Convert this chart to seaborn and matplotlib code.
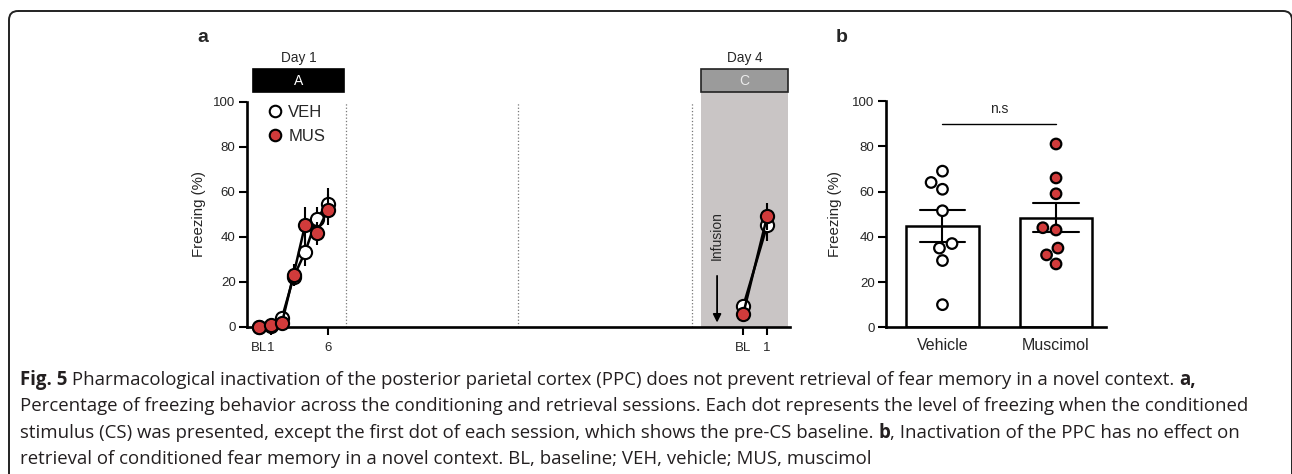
import pandas as pd
import matplotlib
matplotlib.use("Agg")
import matplotlib.pyplot as plt
import seaborn as sns
from matplotlib.patches import Rectangle, FancyBboxPatch
from matplotlib.lines import Line2D

# panel a: freezing per trial, conditioning (day 1) and retrieval (day 4)
day1_trials = ["BL", "1", "2", "3", "4", "5", "6"]
day4_trials = ["BL", "1"]
veh_day1 = [0, 0.5, 4, 22, 33, 48, 54.5]
veh_day1_sem = [0.3, 0.5, 1, 4, 6, 5, 7]
mus_day1 = [0, 0.8, 1.8, 23, 45, 41.5, 52]
mus_day1_sem = [0.3, 0.5, 0.6, 5, 8, 5, 7]
veh_day4 = [9, 45]
veh_day4_sem = [1.5, 7]
mus_day4 = [5.6, 49]
mus_day4_sem = [1, 6]

# panel b: retrieval freezing per animal
groups_b = ["Vehicle", "Muscimol"]
vehicle_pts = [69, 64, 61, 51.5, 37, 35, 29.5, 10]
muscimol_pts = [81, 66, 59, 44, 43, 35, 32, 28]

RED = "#d13b3b"
W, H = 1292, 474

# layout of the session axis (trial units)
day4_start, day4_step = 42.1, 2.08
day_bounds = [7.54, 22.5, 37.65]

rows = []
for group, d1, s1, d4, s4 in [("VEH", veh_day1, veh_day1_sem, veh_day4, veh_day4_sem),
                              ("MUS", mus_day1, mus_day1_sem, mus_day4, mus_day4_sem)]:
    for i, (t, v, s) in enumerate(zip(day1_trials, d1, s1)):
        rows.append(dict(group=group, day="Day 1", trial=t, pos=i, freezing=v, sem=s))
    for i, (t, v, s) in enumerate(zip(day4_trials, d4, s4)):
        rows.append(dict(group=group, day="Day 4", trial=t, pos=day4_start + i * day4_step,
                         freezing=v, sem=s))
df_a = pd.DataFrame(rows)

df_b = pd.DataFrame({"group": ["Vehicle"] * len(vehicle_pts) + ["Muscimol"] * len(muscimol_pts),
                     "freezing": vehicle_pts + muscimol_pts})

sns.set_theme(style="ticks")
plt.rcParams["font.family"] = ["Liberation Sans", "DejaVu Sans"]

fig = plt.figure(figsize=(W / 100, H / 100), dpi=100)

# background: rounded frame + caption, in pixel coordinates
bg = fig.add_axes([0, 0, 1, 1])
bg.set_xlim(0, W)
bg.set_ylim(H, 0)
bg.axis("off")
bg.add_patch(FancyBboxPatch((9, 11), 1283, 500, boxstyle="round,pad=0,rounding_size=9",
                            fill=False, ec="#222222", lw=1.4))

# ---------------- panel a ----------------
ax = fig.add_axes([246.7 / W, 1 - 326.7 / H, (790 - 246.7) / W, 225.2 / H])
ax.set_xlim(-1.07, 46.17)
ax.set_ylim(0, 100)

ax.add_patch(Rectangle((38.41, 0), 46.0 - 38.41, 104, fc="#c9c5c5", lw=0, zorder=0, clip_on=False))
for xb in day_bounds:
    ax.axvline(xb, ymin=0, ymax=1, ls=":", color="#777777", lw=0.9, zorder=1)

# session headers
ax.add_patch(Rectangle((-0.55, 104), 7.94, 10.5, fc="black", ec="black", lw=1.2, clip_on=False))
ax.text(3.42, 109.2, "A", color="white", ha="center", va="center", fontsize=10)
ax.text(3.42, 119.3, "Day 1", ha="center", va="center", fontsize=9.8)
ax.add_patch(Rectangle((38.41, 104), 7.59, 10.5, fc="#9b9b9b", ec="#222222", lw=1.2, clip_on=False))
ax.text(42.2, 109.2, "C", color="#ececec", ha="center", va="center", fontsize=10)
ax.text(42.2, 119.3, "Day 4", ha="center", va="center", fontsize=9.8)

# infusion arrow
ax.annotate("", xy=(39.83, 0.6), xytext=(39.83, 23.8),
            arrowprops=dict(arrowstyle="-|>", color="black", lw=1.3, mutation_scale=12))
ax.text(39.83, 40.4, "Infusion", rotation=90, ha="center", va="center", fontsize=10)

faces = {"VEH": "white", "MUS": RED}
for z, group in enumerate(["VEH", "MUS"]):
    for day in ["Day 1", "Day 4"]:
        sub = df_a[(df_a["group"] == group) & (df_a["day"] == day)]
        ax.errorbar(sub["pos"], sub["freezing"], yerr=sub["sem"], fmt="none", ecolor="black",
                    elinewidth=1.5, capsize=0, zorder=3 + 2 * z, clip_on=False)
        sns.lineplot(data=sub, x="pos", y="freezing", ax=ax, color="black", lw=1.8,
                     marker="o", markersize=9.5, markerfacecolor=faces[group],
                     markeredgecolor="black", markeredgewidth=1.5, errorbar=None,
                     zorder=4 + 2 * z, clip_on=False)

handles = [Line2D([], [], ls="none", marker="o", ms=8.3, mfc="white", mec="black", mew=1.5, label="VEH"),
           Line2D([], [], ls="none", marker="o", ms=8.3, mfc=RED, mec="black", mew=1.5, label="MUS")]
ax.legend(handles=handles, loc="upper left", bbox_to_anchor=(0.041, 0.985), frameon=False,
          handlelength=0.75, handletextpad=0.4, labelspacing=0.56, fontsize=12,
          borderaxespad=0, borderpad=0)

ax.set_xticks([0, 1, 6, day4_start, day4_start + day4_step])
ax.set_xticklabels(["BL", "1", "6", "BL", "1"])
ax.set_yticks([0, 20, 40, 60, 80, 100])
ax.set_xlabel("")
ax.set_ylabel("Freezing (%)", fontsize=10.8)
ax.yaxis.set_label_coords(-0.075, 0.5)
ax.tick_params(axis="both", length=6, width=1.5, labelsize=9.5, color="black")
ax.tick_params(axis="y", pad=2)
ax.tick_params(axis="x", pad=5)
sns.despine(ax=ax)
for s in ["left", "bottom"]:
    ax.spines[s].set_linewidth(1.9)
    ax.spines[s].set_color("black")

# ---------------- panel b ----------------
axb = fig.add_axes([885.7 / W, 1 - 327.3 / H, (1106 - 885.7) / W, 226.3 / H])
sns.barplot(data=df_b, x="group", y="freezing", order=groups_b, color="white", saturation=1,
            edgecolor="black", linewidth=1.8, width=0.64, errorbar="se", capsize=0.4,
            err_kws={"color": "black", "linewidth": 1.5}, ax=axb)
sns.swarmplot(data=df_b, x="group", y="freezing", order=groups_b, hue="group",
              palette={"Vehicle": "white", "Muscimol": RED}, edgecolor="black", linewidth=1.6,
              size=7.6, legend=False, ax=axb, zorder=5)
axb.plot([0, 1], [90, 90], color="black", lw=1)
axb.text(0.5, 96.4, "n.s", ha="center", va="center", fontsize=10)
axb.set_xlim(-0.5, 1.44)
axb.set_ylim(0, 100)
axb.set_yticks([0, 20, 40, 60, 80, 100])
axb.set_xlabel("")
axb.set_ylabel("Freezing (%)", fontsize=10.8)
axb.yaxis.set_label_coords(-0.2, 0.5)
axb.tick_params(axis="y", length=6, width=1.5, labelsize=9.5, pad=2, color="black")
axb.tick_params(axis="x", length=0, labelsize=11.5, pad=8)
sns.despine(ax=axb)
for s in ["left", "bottom"]:
    axb.spines[s].set_linewidth(1.9)
    axb.spines[s].set_color("black")

fig.text(203 / W, 1 - 37 / H, "a", fontsize=14, fontweight="bold", ha="center", va="center")
fig.text(842 / W, 1 - 37 / H, "b", fontsize=14, fontweight="bold", ha="center", va="center")

# ---------------- caption ----------------
caption_lines = [
    [("Fig. 5", True), (" Pharmacological inactivation of the posterior parietal cortex (PPC) does not prevent retrieval of fear memory in a novel context. ", False), ("a,", True)],
    [("Percentage of freezing behavior across the conditioning and retrieval sessions. Each dot represents the level of freezing when the conditioned", False)],
    [("stimulus (CS) was presented, except the first dot of each session, which shows the pre-CS baseline. ", False), ("b", True), (", Inactivation of the PPC has no effect on", False)],
    [("retrieval of conditioned fear memory in a novel context. BL, baseline; VEH, vehicle; MUS, muscimol", False)],
]
caption_x = 20
caption_right = 1246.7
baselines = [385, 411, 437.5, 463.5]
cap_font = ["Open Sans", "DejaVu Sans"]
renderer = fig.canvas.get_renderer()


def text_width(s, size, bold):
    # bracket the string so leading/trailing spaces are counted
    t1 = bg.text(0, 0, "|" + s + "|", fontsize=size, family=cap_font,
                 fontweight="bold" if bold else "normal")
    t2 = bg.text(0, 0, "||", fontsize=size, family=cap_font,
                 fontweight="bold" if bold else "normal")
    w = t1.get_window_extent(renderer).width - t2.get_window_extent(renderer).width
    t1.remove()
    t2.remove()
    return w


cap_size = 10 * (caption_right - caption_x) / text_width(caption_lines[1][0][0], 10, False)
for line, base in zip(caption_lines, baselines):
    x = caption_x
    for s, bold in line:
        bg.text(x, base, s, fontsize=cap_size, family=cap_font, color="#231f20",
                fontweight="bold" if bold else "normal", ha="left", va="baseline")
        x += text_width(s, cap_size, bold)

fig.savefig("out.png", dpi=100)
